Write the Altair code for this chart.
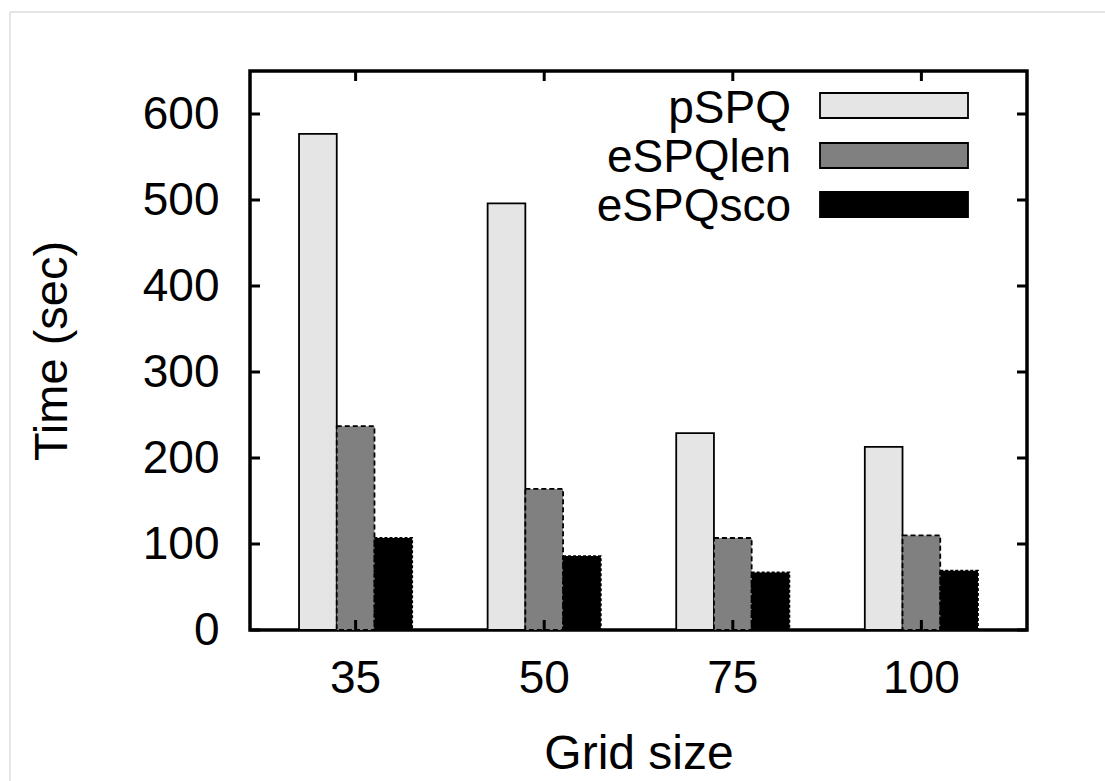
import altair as alt
import pandas as pd

grid_sizes = ["35", "50", "75", "100"]
series_names = ["pSPQ", "eSPQlen", "eSPQsco"]
pspq = [577, 496, 229, 213]
espqlen = [237, 164, 107, 110]
espqsco = [107, 86, 67, 69]
y_ticks = [0, 100, 200, 300, 400, 500, 600]

fills = ["#e5e5e5", "#808080", "#000000"]
dashes = [[1, 0], [5, 3], [3, 2]]
FONT = "Liberation Sans"
FS = 46

rows = []
for name, vals in zip(series_names, [pspq, espqlen, espqsco]):
    for g, v in zip(grid_sizes, vals):
        rows.append({"grid": g, "series": name, "time": v})
df = pd.DataFrame(rows)
leg_df = pd.DataFrame({"series": series_names})
tick_df = pd.DataFrame({"v": y_ticks})
grid_df = pd.DataFrame({"grid": grid_sizes})
one = pd.DataFrame({"a": [0]})

W, H = 777, 559

xscale = alt.Scale(domain=grid_sizes, paddingInner=0.4, paddingOuter=0.26)
fill_scale = alt.Scale(domain=series_names, range=fills)
dash_scale = alt.Scale(domain=series_names, range=dashes)

bars = alt.Chart(df).mark_bar(stroke="black", strokeWidth=1.8).encode(
    x=alt.X("grid:N", sort=grid_sizes, scale=xscale,
            axis=alt.Axis(title="Grid size", labelAngle=0, ticks=False, domain=False,
                          labelPadding=26, labelFontSize=FS, labelFont=FONT,
                          labelColor="black", titleFontSize=48, titleFont=FONT,
                          titleFontWeight="normal", titleColor="black",
                          titleBaseline="alphabetic", titleY=138)),
    xOffset=alt.XOffset("series:N", sort=series_names),
    y=alt.Y("time:Q", scale=alt.Scale(domain=[0, 650], nice=False),
            axis=alt.Axis(title="Time (sec)", values=y_ticks, ticks=False, domain=False,
                          grid=False, labelPadding=31, labelFontSize=FS, labelFont=FONT,
                          labelColor="black", titleFontSize=47, titleFont=FONT,
                          titleFontWeight="normal", titleColor="black",
                          titleX=-184, titleY=H / 2, titleAngle=270,
                          titleBaseline="alphabetic", titleAlign="center")),
    fill=alt.Fill("series:N", scale=fill_scale, legend=None),
    strokeDash=alt.StrokeDash("series:N", scale=dash_scale, legend=None),
)

left_ticks = alt.Chart(tick_df).mark_rule(color="black", strokeWidth=3).encode(
    y="v:Q", x=alt.value(0), x2=alt.value(10))
right_ticks = alt.Chart(tick_df).mark_rule(color="black", strokeWidth=3).encode(
    y="v:Q", x=alt.value(W - 10), x2=alt.value(W))
top_ticks = alt.Chart(grid_df).mark_rule(color="black", strokeWidth=3).encode(
    x=alt.X("grid:N", sort=grid_sizes), y=alt.value(0), y2=alt.value(10))
bottom_ticks = alt.Chart(grid_df).mark_rule(color="black", strokeWidth=3).encode(
    x=alt.X("grid:N", sort=grid_sizes), y=alt.value(H - 10), y2=alt.value(H))

legend_layers = []
sw_top = [22, 72, 121]
txt_base = [52, 101, 150]
for i, name in enumerate(series_names):
    base = alt.Chart(leg_df).transform_filter(alt.datum.series == name)
    legend_layers.append(base.mark_rect(stroke="black", strokeWidth=1.8).encode(
        x=alt.value(570), x2=alt.value(718),
        y=alt.value(sw_top[i]), y2=alt.value(sw_top[i] + 25),
        fill=alt.Fill("series:N", scale=fill_scale, legend=None),
        strokeDash=alt.StrokeDash("series:N", scale=dash_scale, legend=None)))
    legend_layers.append(base.mark_text(align="right", baseline="alphabetic",
                                        font=FONT, fontSize=FS, color="black").encode(
        x=alt.value(541), y=alt.value(txt_base[i]), text="series:N"))

frame_left = alt.Chart(one).mark_rule(color="#dcdcdc", strokeWidth=1.5).encode(
    x=alt.value(-240), y=alt.value(-59), y2=alt.value(781 - 71))
frame_top = alt.Chart(one).mark_rule(color="#dcdcdc", strokeWidth=1.5).encode(
    x=alt.value(-240), x2=alt.value(1105 - 250), y=alt.value(-59))

chart = alt.layer(bars, left_ticks, right_ticks, top_ticks, bottom_ticks,
                  *legend_layers, frame_left, frame_top).properties(
    width=W, height=H,
    autosize=alt.AutoSizeParams(type="none"),
    padding={"left": 250, "top": 71, "right": 1105 - 250 - W, "bottom": 781 - 71 - H},
    background="white",
).configure_view(stroke="black", strokeWidth=3.5)

chart.save("out.html", embed_options={"renderer": "svg", "actions": False})
